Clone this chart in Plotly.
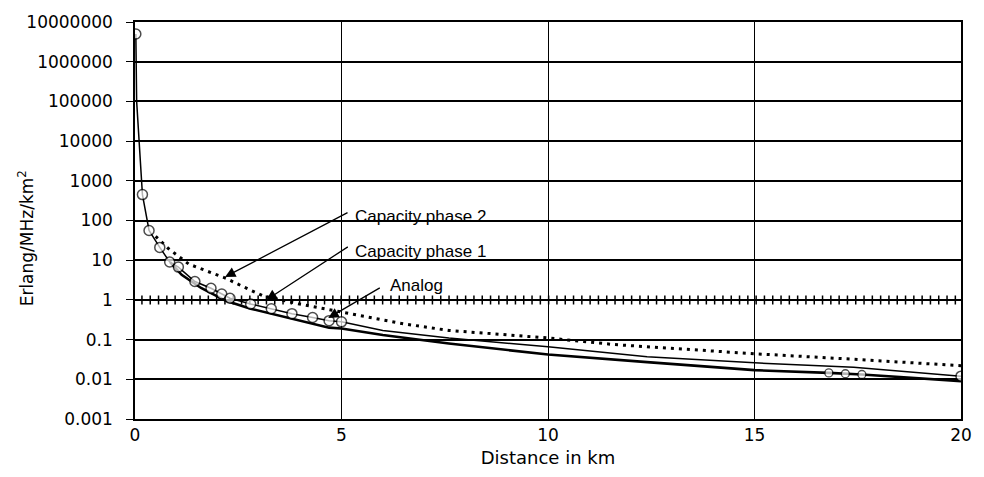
import math
import plotly.graph_objects as go

# ---- data ----
phase2_x = [0.5, 0.8, 1.3, 1.7, 2.2, 2.6, 3.1, 3.95, 5.2, 6.5, 7.6, 10, 11.6, 13.5, 15, 17.4, 20]
phase2_y = [40, 20, 8, 5.5, 3.5, 2.2, 1.26, 0.8, 0.45, 0.25, 0.17, 0.11, 0.075, 0.055, 0.044, 0.032, 0.022]

phase1_x = [0.15, 20]
phase1_y = [1.0, 1.0]

analog_x = [0.02, 0.04, 0.18, 0.34, 0.6, 0.84, 1.05, 1.45, 1.84, 2.1, 2.3, 2.8, 3.3, 3.8, 4.3, 4.7,
            5.0, 6.0, 7.6, 10, 12.4, 15, 17.4, 20]
analog_y = [5e6, 1e5, 450, 56, 21, 9, 6.7, 2.9, 1.96, 1.4, 1.1, 0.79, 0.6, 0.45, 0.36, 0.3,
            0.28, 0.17, 0.11, 0.066, 0.037, 0.026, 0.02, 0.012]

lower_x = [0.85, 1.13, 1.6, 2.2, 2.8, 3.5, 4.7, 5.0, 6.0, 7.6, 10, 12.4, 15, 16.8, 17.2, 17.6, 20]
lower_y = [9, 4.3, 2.0, 0.95, 0.6, 0.4, 0.2, 0.19, 0.13, 0.08, 0.042, 0.027, 0.017, 0.0145, 0.0138, 0.0132, 0.009]

y_ticks = [0.001, 0.01, 0.1, 1, 10, 100, 1000, 10000, 100000, 1000000, 10000000]
y_ticktext = ["0.001", "0.01", "0.1", "1", "10", "100", "1000", "10000", "100000", "1000000", "10000000"]
x_ticks = [0, 5, 10, 15, 20]

labels = ["Capacity phase 2", "Capacity phase 1", "Analog"]
# arrow tips (data coordinates) for each label
arrow_tip_x = [2.18, 3.18, 4.68]
arrow_tip_y = [3.8, 1.0, 0.35]

# ---- figure ----
fig = go.Figure()

# hatched horizontal line (capacity phase 1)
fig.add_trace(go.Scatter(x=phase1_x, y=phase1_y, mode="lines",
                         line=dict(color="black", width=1.5), hoverinfo="skip", showlegend=False))
fig.add_trace(go.Scatter(x=phase1_x, y=phase1_y, mode="lines", name=labels[1],
                         line=dict(color="black", width=9, dash="1.5px,6.8px"), showlegend=False))

# dotted curve (capacity phase 2)
fig.add_trace(go.Scatter(x=phase2_x, y=phase2_y, mode="lines", name=labels[0],
                         line=dict(color="black", width=3, dash="3px,5px"), showlegend=False))

# lower thick curve
lower_sizes = [8 if 16.5 <= v <= 18 else 0 for v in lower_x]
fig.add_trace(go.Scatter(x=lower_x, y=lower_y, mode="lines+markers", name="Analog (lower)",
                         line=dict(color="black", width=2.6),
                         marker=dict(symbol="circle", size=lower_sizes, color="white",
                                     line=dict(color="black", width=1.3)),
                         showlegend=False))

# solid curve with open circles (analog)
analog_sizes = [10 if (v <= 5.0 and v != 0.04) or v >= 20 else 0 for v in analog_x]
fig.add_trace(go.Scatter(x=analog_x, y=analog_y, mode="lines+markers", name=labels[2],
                         line=dict(color="black", width=1.5),
                         marker=dict(symbol="circle", size=analog_sizes, color="white",
                                     line=dict(color="black", width=1.5)),
                         showlegend=False))

font_lbl = dict(family="Liberation Sans, Arial, sans-serif", size=17, color="black")

# label texts
for txt, px, py in [(labels[0], 0.264, 0.511), (labels[1], 0.264, 0.423), (labels[2], 0.306, 0.337)]:
    fig.add_annotation(x=px, y=py, xref="paper", yref="paper", text=txt, showarrow=False,
                       xanchor="left", yanchor="middle", font=font_lbl)

# arrows (tip on data, tail offset in pixels); log axis -> annotation y in log10 units
for tx, ty, ax, ay in zip(arrow_tip_x, arrow_tip_y, [124, 83, 53], [-65, -54, -31]):
    fig.add_annotation(x=tx, y=math.log10(ty), xref="x", yref="y", ax=ax, ay=ay, text="",
                       showarrow=True, arrowhead=2, arrowsize=1.6, arrowwidth=1.3,
                       arrowcolor="black", standoff=0, startstandoff=0)

# y-axis title
fig.add_annotation(x=-0.132, y=0.455, xref="paper", yref="paper",
                   text="Erlang/MHz/km<sup>2</sup>", textangle=-90, showarrow=False,
                   xanchor="center", yanchor="middle",
                   font=dict(family="DejaVu Sans", size=17, color="black"))

fig.update_layout(
    width=984, height=477,
    margin=dict(l=135, r=16, t=17, b=51),
    paper_bgcolor="white", plot_bgcolor="white",
    font=dict(family="DejaVu Sans", size=17, color="black"),
    xaxis=dict(range=[0, 20], tickmode="array", tickvals=x_ticks,
               showgrid=True, gridcolor="black", gridwidth=1,
               showline=True, linecolor="black", linewidth=1.5, mirror=True,
               zeroline=False, ticks="",
               title=dict(text="Distance in km", font=dict(size=18), standoff=7)),
    yaxis=dict(type="log", range=[-3, 7], tickmode="array", tickvals=y_ticks, ticktext=y_ticktext,
               showgrid=True, gridcolor="black", gridwidth=1.5,
               showline=True, linecolor="black", linewidth=1.5, mirror=True,
               zeroline=False, ticks="outside", ticklen=7, tickcolor="black",
               ticklabelstandoff=10),
)

fig.write_html("out.html")
